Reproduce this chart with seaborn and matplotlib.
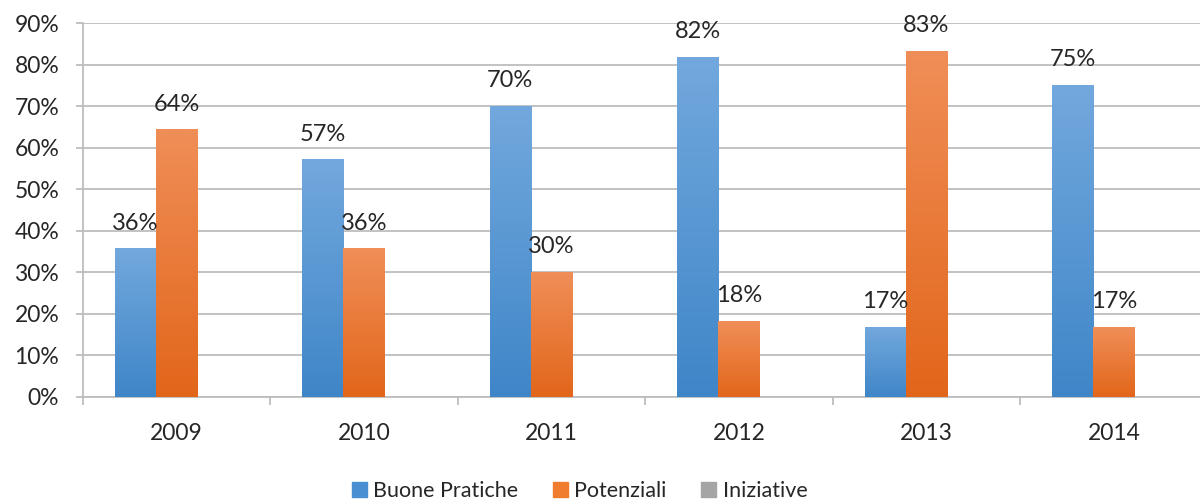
import numpy as np
import pandas as pd
import matplotlib
matplotlib.use("Agg")
import matplotlib.pyplot as plt
import matplotlib.patches as mpatches
from matplotlib.colors import LinearSegmentedColormap
import seaborn as sns

years = ["2009", "2010", "2011", "2012", "2013", "2014"]
series = ["Buone Pratiche", "Potenziali", "Iniziative"]
buone_pratiche = [35.7, 57.1, 70.0, 81.8, 16.7, 75.0]
potenziali = [64.3, 35.7, 30.0, 18.2, 83.3, 16.7]
iniziative = [0, 0, 0, 0, 0, 0]

legend_colors = ["#4a8fd2", "#f07c2e", "#a5a5a5"]
# gradient (bottom, top) per series
grad_colors = [("#3f86c8", "#72a8dd"), ("#e2661a", "#f08e58"), ("#8c8c8c", "#b4b4b4")]

df = pd.DataFrame({
    "anno": years * 3,
    "serie": np.repeat(series, len(years)),
    "valore": buone_pratiche + potenziali + iniziative,
})

sns.set_style("white")
plt.rcParams["font.family"] = ["Lato", "DejaVu Sans"]
txt = "#262626"
grid_c = "#bdbdbd"

fig = plt.figure(figsize=(12, 5.03), dpi=100)
ax = fig.add_axes([0.069, 0.211, 0.9375, 0.743])

sns.barplot(data=df, x="anno", y="valore", hue="serie", hue_order=series,
            palette=legend_colors, width=0.66, errorbar=None, legend=False,
            ax=ax, zorder=3)

grad = np.linspace(0, 1, 256).reshape(-1, 1)
for i, cont in enumerate(ax.containers):
    cmap = LinearSegmentedColormap.from_list("g%d" % i, grad_colors[i])
    for p in cont.patches:
        h = p.get_height()
        if h <= 0:
            p.set_visible(False)
            continue
        x0 = p.get_x()
        w = p.get_width()
        ax.imshow(grad, extent=[x0, x0 + w, 0, h], origin="lower",
                  aspect="auto", cmap=cmap, zorder=3)
        p.set_visible(False)
        if i < 2:
            ax.text(x0 + w / 2, h + 4.6, "%d%%" % round(h), ha="center",
                    va="baseline", fontsize=17, color=txt, zorder=4)

ax.set_xlim(-0.5, len(years) - 0.5)
ax.set_ylim(0, 90)
ax.set_yticks(range(0, 91, 10))
ax.set_yticklabels(["%d%%" % v for v in range(0, 91, 10)])
ax.set_xticks(range(len(years)))
ax.set_xticklabels(years)
ax.set_xticks(np.arange(-0.5, len(years), 1), minor=True)
ax.set_xlabel("")
ax.set_ylabel("")

ax.yaxis.grid(True, color=grid_c, linewidth=1.3, zorder=0)
ax.set_axisbelow(True)
for s in ["top", "right"]:
    ax.spines[s].set_visible(False)
for s in ["left", "bottom"]:
    ax.spines[s].set_color(grid_c)
    ax.spines[s].set_linewidth(1.3)

ax.tick_params(axis="y", which="major", length=5, width=1.3, color=grid_c,
               pad=12, labelsize=16.5, labelcolor=txt, left=True)
ax.tick_params(axis="x", which="major", length=0, pad=19, labelsize=16.5,
               labelcolor=txt)
ax.tick_params(axis="x", which="minor", length=6, width=1.3, color=grid_c,
               bottom=True)

handles = [mpatches.Patch(color=c, label=s) for c, s in zip(legend_colors, series)]
fig.legend(handles=handles, loc="center", bbox_to_anchor=(0.483, 0.024),
           ncol=3, frameon=False, fontsize=15.5, handlelength=0.7,
           handleheight=0.7, handletextpad=0.3, columnspacing=1.6,
           labelcolor=txt)

fig.savefig("out.png", dpi=100)
